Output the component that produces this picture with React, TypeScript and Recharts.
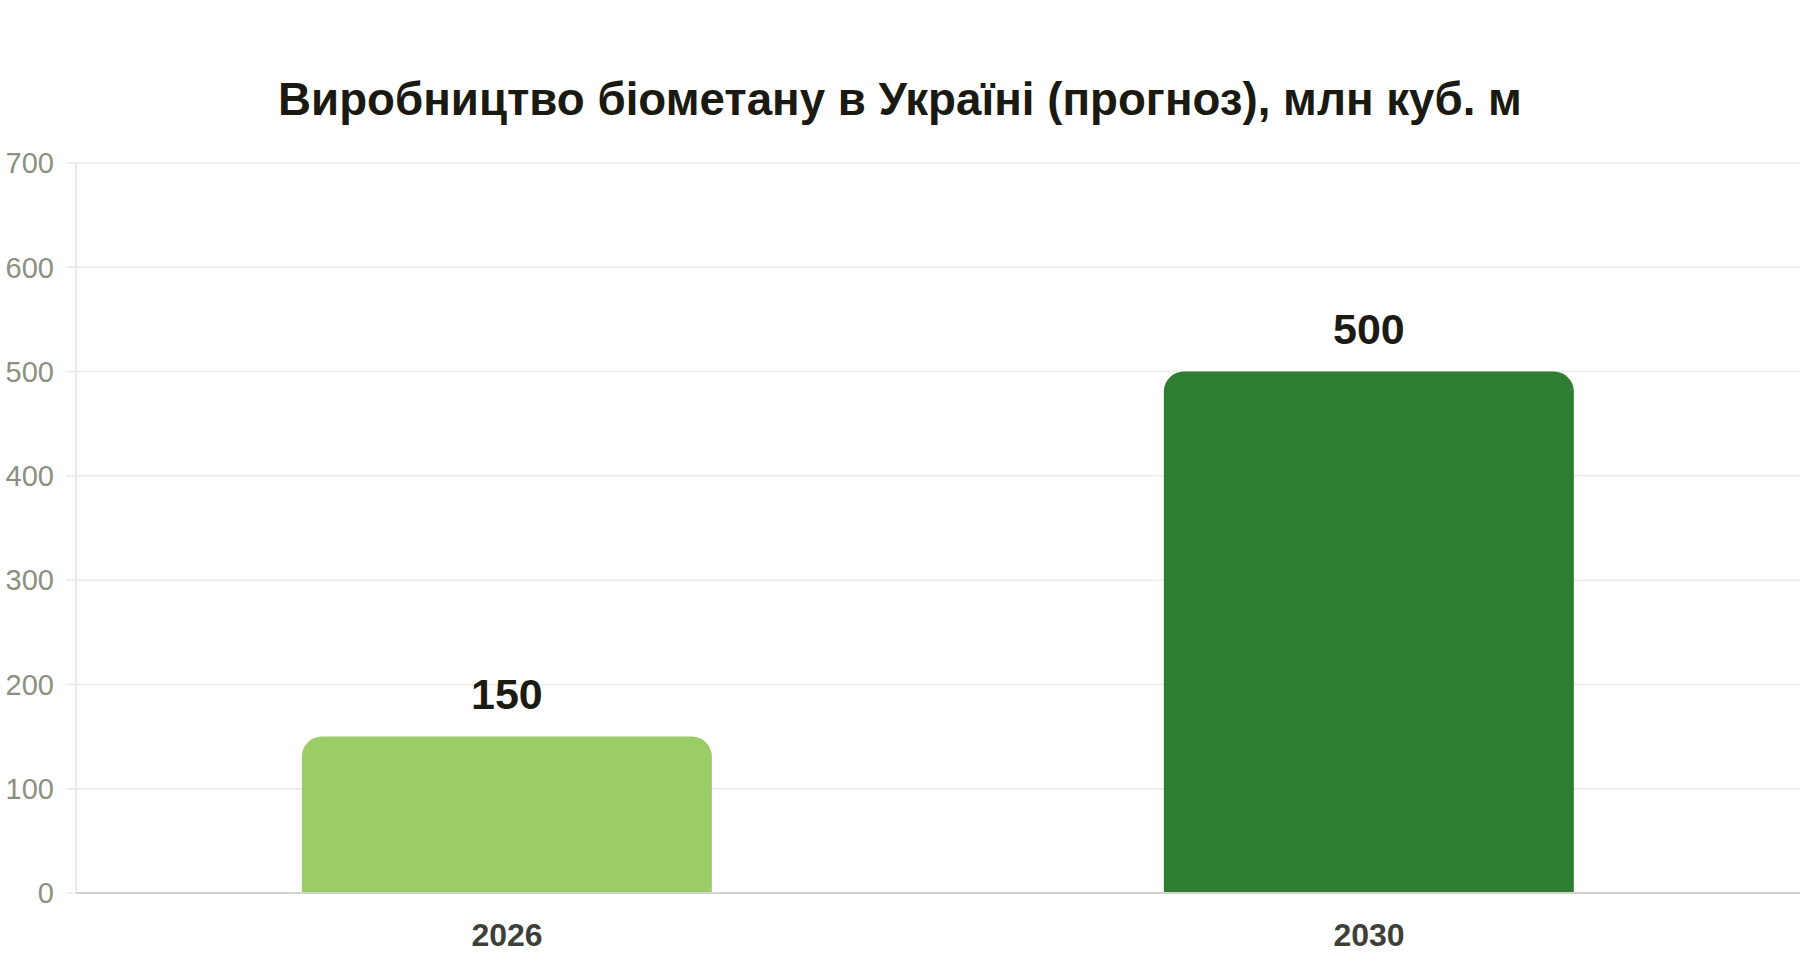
import React from 'react';
import { BarChart, Bar, XAxis, YAxis, CartesianGrid, Cell, LabelList } from 'recharts';

const years = ['2026', '2030'];
const volumes = [150, 500];
const barColors = ['#9ccc65', '#2e7d32'];
const yTicks = [0, 100, 200, 300, 400, 500, 600, 700];

const data = years.map((year, i) => ({ year, value: volumes[i] }));

const FONT = '"Liberation Sans", Arial, sans-serif';

const App: React.FC = () => {
  return (
    <div style={{ position: 'fixed', top: 0, left: 0, width: 1800, height: 960, background: '#fff', fontFamily: FONT }}>
      {/* Title */}
      <div
        style={{
          position: 'absolute', top: 73, left: 0, width: 1800, textAlign: 'center',
          fontSize: 45.7, fontWeight: 700, color: '#1a1a12', lineHeight: '54px',
        }}
      >
        Виробництво біометану в Україні (прогноз), млн куб. м
      </div>

      <div style={{ position: 'absolute', top: 0, left: 0 }}>
        <BarChart
          width={1800}
          height={960}
          data={data}
          margin={{ top: 163, right: 0, bottom: 0, left: 0 }}
          barCategoryGap="26.2%"
        >
          <CartesianGrid stroke="#e9ebe7" strokeWidth={1.5} vertical={false} />
          <XAxis
            dataKey="year"
            height={67}
            tickSize={0}
            tickMargin={30}
            axisLine={{ stroke: '#d2d3ce', strokeWidth: 2 }}
            tick={{ fill: '#3f3f3a', fontSize: 32, fontWeight: 700, fontFamily: FONT }}
          />
          <YAxis
            width={76}
            domain={[0, 700]}
            ticks={yTicks}
            tickSize={10}
            tickMargin={12}
            axisLine={{ stroke: '#e0e1dd', strokeWidth: 1.5 }}
            tickLine={{ stroke: '#e9ebe7', strokeWidth: 1.5 }}
            tick={{ fill: '#8c9080', fontSize: 29, fontFamily: FONT }}
          />
          <Bar dataKey="value" radius={[20, 20, 0, 0]} isAnimationActive={false}>
            {data.map((d, i) => (
              <Cell key={d.year} fill={barColors[i]} />
            ))}
            <LabelList
              dataKey="value"
              position="top"
              offset={28}
              style={{ fill: '#1b1b14', fontSize: 43, fontWeight: 700, fontFamily: FONT }}
            />
          </Bar>
        </BarChart>
      </div>
    </div>
  );
};

export default App;
